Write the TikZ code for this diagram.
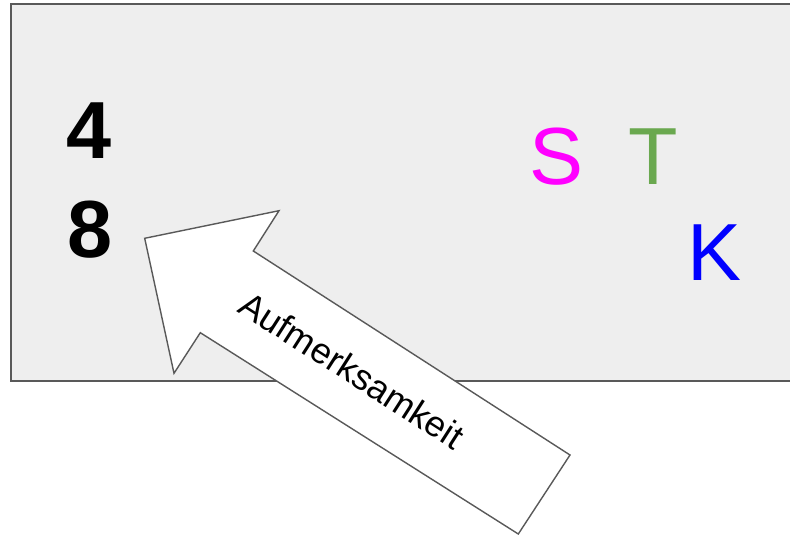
\documentclass[tikz,border=0pt]{standalone}
\usepackage{fontspec}
\setmainfont{Liberation Sans}
\definecolor{panelgray}{HTML}{EEEEEE}
\definecolor{linegray}{HTML}{595959}
\definecolor{tgreen}{HTML}{6AA84F}
\tikzset{
    big/.style={font=\fontsize{81}{96}\selectfont, inner sep=0pt, anchor=base},
    digit/.style={big, font=\fontsize{81}{96}\selectfont\bfseries},
}
\begin{document}
\begin{tikzpicture}[x=1pt,y=-1pt]
    \useasboundingbox (0,0) rectangle (790,535);
    \clip (0,0) rectangle (790,535);

    % gray panel, runs off the right edge
    \draw[linegray, fill=panelgray, line width=1.4pt] (11,4) rectangle (820,381);

    \node[digit] (four)  at (89,158) {4};
    \node[digit] (eight) at (90,257) {8};

    \node[big, text={rgb,255:red,255;green,0;blue,255}] (s) at (557,184) {S};
    \node[big, text=tgreen] (t) at (653,184) {T};
    \node[big, text=blue]   (k) at (715,280) {K};

    % block arrow
    \coordinate (tip) at (144.7,238.3);
    \coordinate (headA) at (279,210.7);
    \coordinate (neckA) at (253.3,251);
    \coordinate (tailA) at (570,455);
    \coordinate (tailB) at (518.3,534);
    \coordinate (neckB) at (200.3,332.7);
    \coordinate (headB) at (174,373.3);
    \filldraw[fill=white, draw=linegray, line width=1.4pt, line join=miter]
        (tip) -- (headA) -- (neckA) -- (tailA) -- (tailB) -- (neckB) -- (headB) -- cycle;

    \node[rotate=-32.7, font=\fontsize{36}{42}\selectfont, inner sep=0pt] (attn) at (352,370) {Aufmerksamkeit};

\end{tikzpicture}
\end{document}
